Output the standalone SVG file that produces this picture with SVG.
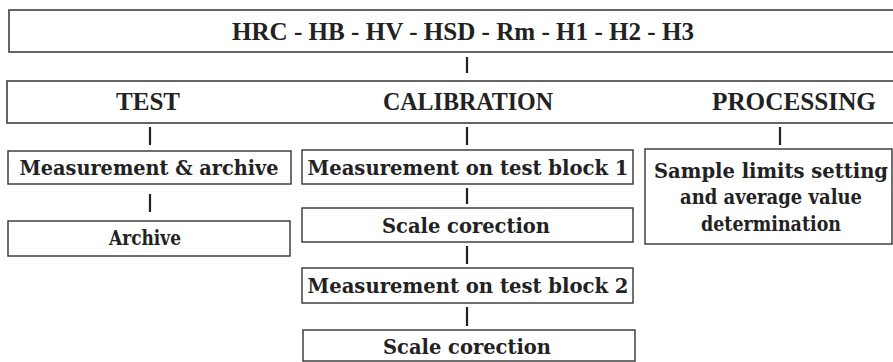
<svg xmlns="http://www.w3.org/2000/svg" width="893" height="362" viewBox="0 0 893 362">
<style>
.box{fill:#fff;stroke:#333;stroke-width:1.4}
.hbox{fill:#fff;stroke:#555;stroke-width:1.8}
.c{stroke:#222;stroke-width:2.2;fill:none}
</style>
<rect width="893" height="362" fill="#fff"/>
<g id="connectors">
<line class="c" x1="467" y1="57" x2="467" y2="73"/>
<line class="c" x1="150" y1="127" x2="150" y2="145"/>
<line class="c" x1="467" y1="127" x2="467" y2="145"/>
<line class="c" x1="780" y1="127" x2="780" y2="145"/>
<line class="c" x1="150" y1="194" x2="150" y2="212"/>
<line class="c" x1="467" y1="188" x2="467" y2="204"/>
<line class="c" x1="467" y1="246" x2="467" y2="264"/>
<line class="c" x1="467" y1="307" x2="467" y2="326"/>
</g>
<g font-family="'Liberation Serif', 'Times New Roman', serif" font-weight="bold" font-size="25" fill="#222" text-anchor="middle">
<g id="header">
<rect class="hbox" x="9" y="10" width="900" height="42"/>
<text x="463" y="40" textLength="462" lengthAdjust="spacingAndGlyphs">HRC - HB - HV - HSD - Rm - H1 - H2 - H3</text>
</g>
<g id="categories">
<rect class="hbox" x="7" y="81" width="900" height="42"/>
<text x="148" y="110" textLength="64" lengthAdjust="spacingAndGlyphs">TEST</text>
<text x="468" y="110" textLength="170" lengthAdjust="spacingAndGlyphs">CALIBRATION</text>
<text x="794" y="110" textLength="164" lengthAdjust="spacingAndGlyphs">PROCESSING</text>
</g>
</g>
<g font-family="'DejaVu Serif', 'Liberation Serif', serif" font-weight="bold" font-size="21" fill="#222" text-anchor="middle">
<g id="meas-archive">
<rect class="box" x="8" y="151" width="283" height="33"/>
<text x="149" y="175" textLength="259" lengthAdjust="spacingAndGlyphs">Measurement &amp; archive</text>
</g>
<g id="archive">
<rect class="box" x="8" y="221" width="282" height="35"/>
<text x="145" y="245" textLength="72" lengthAdjust="spacingAndGlyphs">Archive</text>
</g>
<g id="block1">
<rect class="box" x="302" y="150" width="331" height="34"/>
<text x="468" y="175" textLength="321" lengthAdjust="spacingAndGlyphs">Measurement on test block 1</text>
</g>
<g id="scale1">
<rect class="box" x="302" y="208" width="331" height="34"/>
<text x="466" y="233" textLength="168" lengthAdjust="spacingAndGlyphs">Scale corection</text>
</g>
<g id="block2">
<rect class="box" x="302" y="268" width="331" height="35"/>
<text x="468" y="293" textLength="321" lengthAdjust="spacingAndGlyphs">Measurement on test block 2</text>
</g>
<g id="scale2">
<rect class="box" x="303" y="330" width="332" height="31"/>
<text x="467" y="354" textLength="168" lengthAdjust="spacingAndGlyphs">Scale corection</text>
</g>
<g id="processing">
<rect class="box" x="645" y="149" width="247" height="95"/>
<text x="771" y="178" textLength="234" lengthAdjust="spacingAndGlyphs">Sample limits setting</text>
<text x="771" y="204" textLength="182" lengthAdjust="spacingAndGlyphs">and average value</text>
<text x="771" y="231" textLength="140" lengthAdjust="spacingAndGlyphs">determination</text>
</g>
</g>
</svg>
